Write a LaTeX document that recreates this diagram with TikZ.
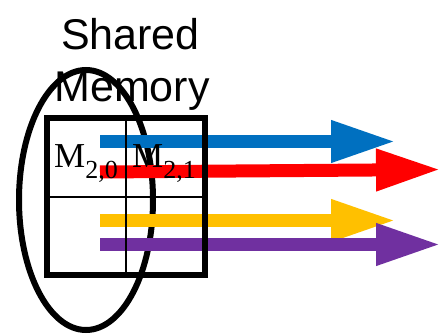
\documentclass[tikz,border=0pt]{standalone}
\usepackage{fontspec}
\setmainfont{Liberation Serif}
\newfontfamily\labelsans{Liberation Sans}
\usetikzlibrary{arrows.meta}
\definecolor{arrblue}{HTML}{0070C0}
\definecolor{arrred}{HTML}{FF0000}
\definecolor{arryellow}{HTML}{FFC000}
\definecolor{arrpurple}{HTML}{7030A0}
\tikzset{
  fatarrow/.style={line width=13pt, -{Triangle[length=65pt,width=39pt]}},
  memlabel/.style={anchor=base west, inner sep=0pt, font=\fontsize{35}{35}\selectfont},
  title/.style={anchor=base, inner sep=0pt, font=\labelsans\fontsize{43}{43}\selectfont},
}
\newcommand{\subidx}[1]{\raisebox{-11pt}{\fontsize{26}{26}\selectfont #1}}
\begin{document}
\begin{tikzpicture}[x=1pt,y=-1pt]
  \useasboundingbox (0,0) rectangle (445,336);

  % highlighted column
  \draw[line width=6pt] (86,200) ellipse [x radius=67, y radius=130];

  % data flowing out of the tile
  \coordinate (b0) at (100,141.5); \coordinate (b1) at (396,141.5);
  \coordinate (r0) at (100,172);   \coordinate (r1) at (441,169.5);
  \coordinate (y0) at (100,220.5); \coordinate (y1) at (396,220.5);
  \coordinate (p0) at (100,244.5); \coordinate (p1) at (441,244.5);
  \draw[fatarrow, arrblue]   (b0) -- (b1);
  \draw[fatarrow, arrred]    (r0) -- (r1);
  \draw[fatarrow, arryellow] (y0) -- (y1);
  \draw[fatarrow, arrpurple] (p0) -- (p1);

  % shared memory tile
  \draw[line width=6pt] (47,118) rectangle (205,275);
  \draw[line width=1.5pt] (126,118) -- (126,275);
  \draw[line width=1.5pt] (47,197) -- (205,197);

  \node[memlabel] (m20) at (54,168) {M\subidx{2,0}};
  \node[memlabel] (m21) at (132,168) {M\subidx{2,1}};

  \node[title] (t1) at (130.5,50) {Shared};
  \node[title] (t2) at (132,102) {Memory};
\end{tikzpicture}
\end{document}
